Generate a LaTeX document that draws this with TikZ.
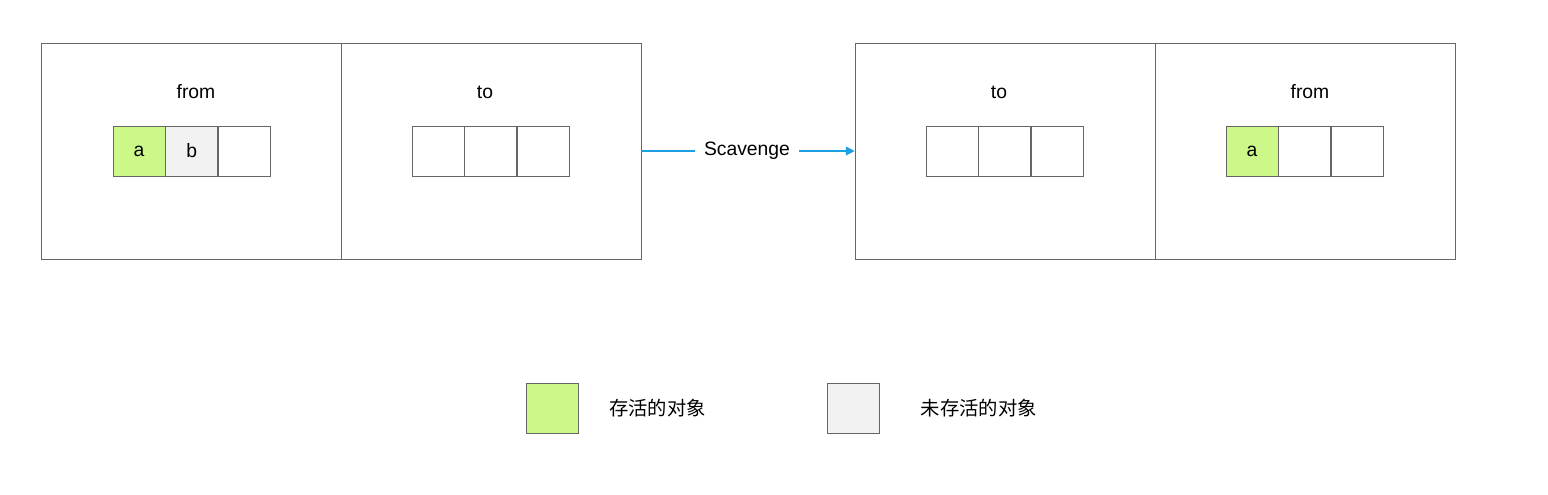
\documentclass[tikz,border=0pt]{standalone}
\usepackage{fontspec}
\setmainfont{Liberation Sans}
\newfontfamily\cjk{Noto Sans CJK SC}
\usetikzlibrary{positioning,arrows.meta}
\definecolor{alive}{HTML}{CCF88A}
\definecolor{dead}{HTML}{F2F2F2}
\definecolor{line}{HTML}{666666}
\definecolor{flow}{HTML}{1BA1E2}
\tikzset{
  space/.style={draw=line, minimum width=6cm, minimum height=4.32cm, inner sep=0pt},
  cell/.style={draw=line, minimum width=1.04cm, minimum height=1cm, inner sep=0pt, font=\fontsize{11}{13}\selectfont},
  title/.style={font=\fontsize{11}{13}\selectfont}
}
\begin{document}
\begin{tikzpicture}[x=0.02cm,y=-0.02cm]
    \useasboundingbox (0,0) rectangle (1548,494);
    % semi spaces, before
    \node[space] (F1) at (191,151) {};
    \node[space] (T1) at (491,151) {};
    \node[title] (f1) at (196,92) {from};
    \node[title] (t1) at (485,92) {to};
    \node[cell,fill=alive] (A1) at (139,151) {a};
    \node[cell,fill=dead,right=0pt of A1] (B1) {b};
    \node[cell,right=0pt of B1] (C1) {};
    \node[cell] (D1) at (438,151) {};
    \node[cell,right=0pt of D1] (E1) {};
    \node[cell,right=0pt of E1] (G1) {};
    % semi spaces, after
    \node[space] (T2) at (1005,151) {};
    \node[space] (F2) at (1305,151) {};
    \node[title] (t2) at (999,92) {to};
    \node[title] (f2) at (1310,92) {from};
    \node[cell] (D2) at (952,151) {};
    \node[cell,right=0pt of D2] (E2) {};
    \node[cell,right=0pt of E2] (G2) {};
    \node[cell,fill=alive] (A2) at (1252,151) {a};
    \node[cell,right=0pt of A2] (B2) {};
    \node[cell,right=0pt of B2] (C2) {};
    % scavenge
    \node[title,fill=white,inner sep=5pt] (sc) at (747,151) {Scavenge};
    \draw[flow,semithick] (T1.east) -- (sc.west);
    \draw[flow,semithick,-{Triangle[length=5pt,width=5pt]}] (sc.east) -- (T2.west);
    % legend
    \node[cell,fill=alive] (L1) at (552,408) {};
    \node[title,right=14pt of L1] (l1) {\cjk 存活的对象};
    \node[cell,fill=dead] (L2) at (853,408) {};
    \node[title,right=20pt of L2] (l2) {\cjk 未存活的对象};
\end{tikzpicture}
\end{document}
